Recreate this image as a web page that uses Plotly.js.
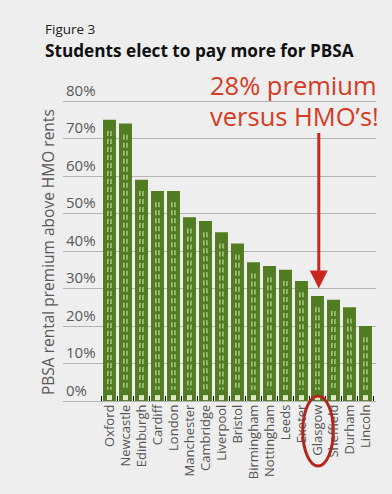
<!DOCTYPE html>
<html>
<head>
<meta charset="utf-8">
<script src="https://cdn.plot.ly/plotly-3.0.1.min.js"></script>
<style>
  html, body { margin: 0; padding: 0; background: #eeeeee; }
  #chart { width: 392px; height: 494px; }
</style>
</head>
<body>
<div id="chart"></div>
<script>
// ---- data ----
var cities = ["Oxford", "Newcastle", "Edinburgh", "Cardiff", "London", "Manchester", "Cambridge",
  "Liverpool", "Bristol", "Birmingham", "Nottingham", "Leeds", "Exeter", "Glasgow",
  "Sheffield", "Durham", "Lincoln"];
var premium = [0.75, 0.74, 0.59, 0.56, 0.56, 0.49, 0.48, 0.45, 0.42, 0.37, 0.36, 0.35, 0.32, 0.28, 0.27, 0.25, 0.20];
var yTicks = [0, 0.1, 0.2, 0.3, 0.4, 0.5, 0.6, 0.7, 0.8];
var highlightCity = "Glasgow";
var highlightLine1 = "28% premium";
var highlightLine2 = "versus HMO’s!";

// ---- derived decoration (dashed stripes inside bars) ----
var stripeX = [], stripeY = [];
cities.forEach(function (c, i) {
  [-0.1, 0.09].forEach(function (off) {
    stripeX.push(i + off, i + off, null);
    stripeY.push(premium[i] - 0.03, 0.03, null);
  });
});
var baseX = cities.map(function (c, i) { return i; });
var baseY = cities.map(function () { return 0.009; });

var xRange = [-2.906, 16.656];
var hi = cities.indexOf(highlightCity);

var traces = [
  {
    type: "bar", x: cities, y: premium,
    marker: { color: "#527c22", line: { width: 0 } },
    hoverinfo: "x+y"
  },
  {
    type: "scatter", mode: "lines", x: stripeX, y: stripeY, xaxis: "x2",
    line: { color: "#dce9b8", width: 1, dash: "5px,3px" },
    hoverinfo: "skip", showlegend: false
  },
  {
    type: "scatter", mode: "markers", x: baseX, y: baseY, xaxis: "x2",
    marker: { symbol: "square", size: 5, color: "#dfe9c6", line: { width: 0 } },
    hoverinfo: "skip", showlegend: false
  }
];

var layout = {
  width: 392, height: 494,
  margin: { l: 63, r: 16, t: 79, b: 93 },
  paper_bgcolor: "#eeeeee", plot_bgcolor: "#eeeeee",
  showlegend: false,
  bargap: 0.19,
  font: { family: "Open Sans, sans-serif", color: "#595959" },
  xaxis: {
    type: "category", range: xRange, tickmode: "linear", dtick: 1,
    tickangle: -90, tickfont: { size: 13, color: "#555555" },
    ticks: "inside", ticklen: 5, tickcolor: "#000000", tickwidth: 1,
    tickson: "boundaries", showgrid: false, showline: false, zeroline: false,
    fixedrange: true
  },
  xaxis2: {
    overlaying: "x", range: xRange, visible: false, fixedrange: true
  },
  yaxis: {
    range: [0, 0.8587], tickvals: yTicks, tickformat: ".0%",
    ticklabelposition: "inside top",
    tickfont: { size: 15, color: "#5a5a5a" },
    showgrid: true, gridcolor: "#b4b4b4", gridwidth: 1,
    zeroline: true, zerolinecolor: "#b4b4b4", zerolinewidth: 1,
    showline: false, ticks: "", fixedrange: true
  },
  annotations: [
    { xref: "paper", yref: "paper", x: -0.0639, y: 1.154, xanchor: "left", yanchor: "middle",
      text: "Figure 3", showarrow: false, font: { size: 13.5, color: "#222222" } },
    { xref: "paper", yref: "paper", x: -0.0639, y: 1.090, xanchor: "left", yanchor: "middle",
      text: "<b>Students elect to pay more for PBSA</b>", showarrow: false,
      font: { size: 17.2, color: "#111111" } },
    { xref: "paper", yref: "paper", x: 0.4635, y: 0.982, xanchor: "left", yanchor: "middle",
      text: highlightLine1, showarrow: false,
      font: { size: 25.5, color: "#d63a1f" } },
    { xref: "paper", yref: "paper", x: 0.4635, y: 0.886, xanchor: "left", yanchor: "middle",
      text: highlightLine2, showarrow: false,
      font: { size: 25.5, color: "#d63a1f" } },
    { xref: "paper", yref: "paper", x: -0.048, y: 0.4627, xanchor: "center", yanchor: "middle",
      textangle: -90, text: "PBSA rental premium above HMO rents", showarrow: false,
      font: { size: 15.5, color: "#5a5a5a" } },
    { xref: "x2", yref: "y", x: hi + 0.08, y: premium[hi] + 0.02, text: "",
      showarrow: true, axref: "pixel", ayref: "pixel", ax: 0, ay: -157,
      arrowhead: 2, arrowsize: 1.2, arrowwidth: 3, arrowcolor: "#c8261e", standoff: 0 }
  ],
  shapes: [
    { type: "circle", xref: "paper", yref: "paper",
      x0: 0.766, x1: 0.8636, y0: -0.2019, y1: 0.0155,
      line: { color: "#b3261e", width: 3 } }
  ]
};

Plotly.newPlot("chart", traces, layout, { displayModeBar: false, staticPlot: true });
</script>
</body>
</html>
